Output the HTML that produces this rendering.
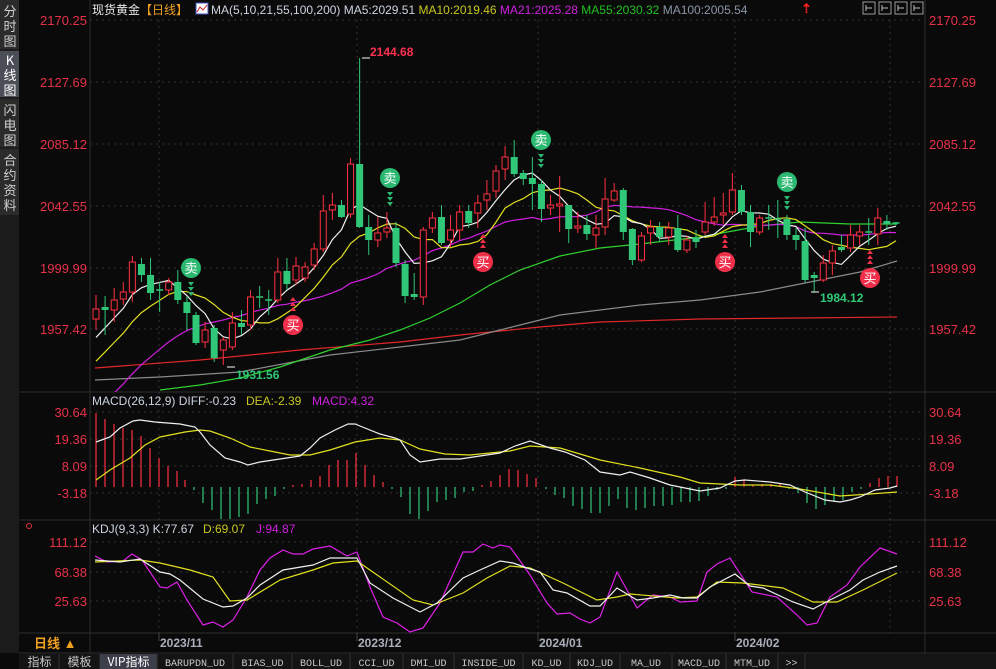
<!DOCTYPE html>
<html><head><meta charset="utf-8">
<style>
html,body{margin:0;padding:0;background:#0a0a0a;}
body{width:996px;height:669px;overflow:hidden;position:relative;font-family:"Liberation Sans","Noto Sans CJK SC",sans-serif;}
svg{position:absolute;left:0;top:0;}
</style></head>
<body>
<svg id="s" width="996" height="669" viewBox="0 0 996 669" xmlns="http://www.w3.org/2000/svg">
<rect width="996" height="669" fill="#0a0a0a"/>
<!-- sidebar -->
<rect x="0" y="0" width="19" height="653" fill="#2b2b2b"/>
<rect x="0" y="51" width="19" height="46" fill="#4b4e57"/>
<line x1="0" y1="50" x2="19" y2="50" stroke="#111"/>
<line x1="0" y1="98" x2="19" y2="98" stroke="#111"/>
<line x1="0" y1="148" x2="19" y2="148" stroke="#111"/>
<g font-size="13" fill="#d0d0d0" text-anchor="middle" font-family="'Noto Sans CJK SC',sans-serif">
<text x="10" y="16">分</text><text x="10" y="31">时</text><text x="10" y="46">图</text>
<text x="10" y="65" fill="#fff">K</text><text x="10" y="80" fill="#fff">线</text><text x="10" y="95" fill="#fff">图</text>
<text x="10" y="115">闪</text><text x="10" y="130">电</text><text x="10" y="145">图</text>
<text x="10" y="165">合</text><text x="10" y="180">约</text><text x="10" y="195">资</text><text x="10" y="210">料</text>
</g>
<rect x="0" y="215" width="19" height="438" fill="#1b1b1b"/>
<g id="grid"></g>
<g id="plot"></g>
</svg>
<script>
var NS="http://www.w3.org/2000/svg";
var plot=document.getElementById('plot'),grid=document.getElementById('grid');
function el(p,t,a,txt){var e=document.createElementNS(NS,t);for(var k in a)e.setAttribute(k,a[k]);if(txt!==undefined)e.textContent=txt;p.appendChild(e);return e;}
function pl(p,pts,c,w,clip){var s=pts.map(function(q){return q[0]+','+q[1]}).join(' ');var a={points:s,fill:'none',stroke:c,'stroke-width':w||1};if(clip)a['clip-path']=clip;return el(p,'polyline',a);}
var defs=el(document.getElementById('s'),'defs',{});
var cp=el(defs,'clipPath',{id:'cm'});el(cp,'rect',{x:91,y:20,width:834,height:372});
var cp2=el(defs,'clipPath',{id:'ck'});el(cp2,'rect',{x:91,y:521,width:834,height:112});
var L=90,R=925;
[[L,0,L,653],[R,0,R,653]].forEach(function(a){el(grid,'line',{x1:a[0],y1:a[1],x2:a[2],y2:a[3],stroke:'#2c2c2c'})});
[392,520,633,653].forEach(function(y){el(grid,'line',{x1:19,y1:y,x2:996,y2:y,stroke:'#2e2e2e'})});
function hl(y,lab){el(grid,'line',{x1:L,y1:y,x2:R,y2:y,stroke:'#333','stroke-dasharray':'2,4'});
 el(grid,'text',{x:87,y:y+5,'text-anchor':'end','font-size':13,fill:'#e8324a'},lab);
 el(grid,'text',{x:929,y:y+5,'font-size':13,fill:'#e8324a'},lab);}
hl(20,'2170.25');hl(82,'2127.69');hl(144,'2085.12');hl(206,'2042.55');hl(268,'1999.99');hl(329,'1957.42');
hl(412,'30.64');hl(439,'19.36');hl(466,'8.09');hl(493,'-3.18');
hl(542,'111.12');hl(572,'68.38');hl(601,'25.63');
[159,357,538,735].forEach(function(x){el(grid,'line',{x1:x,y1:20,x2:x,y2:633,stroke:'#333','stroke-dasharray':'2,4'});
 el(grid,'line',{x1:x,y1:633,x2:x,y2:641,stroke:'#444'});});
el(grid,'line',{x1:890,y1:20,x2:890,y2:633,stroke:'#333','stroke-dasharray':'2,4'});
[['2023/11',160],['2023/12',358],['2024/01',539],['2024/02',736]].forEach(function(d){el(grid,'text',{x:d[1],y:647,'font-size':12,'font-weight':'bold',fill:'#a9b0bb'},d[0])});
el(grid,'text',{x:34,y:648,'font-size':13,'font-weight':'bold',fill:'#f0a020'},'日线 ▲');
var h=el(grid,'text',{x:92,y:14,'font-size':12,fill:'#ddd'});
function ts(t,c){var e=document.createElementNS(NS,'tspan');e.setAttribute('fill',c);e.textContent=t;h.appendChild(e);}
ts('现货黄金','#e8e8e8');ts('【日线】','#f0a020');
el(grid,'rect',{x:196,y:3,width:12,height:11,fill:'#fff',stroke:'#4050c0'});
pl(grid,[[197,12],[200,7],[203,10],[207,5]],'#d02020',1);
var h2=el(grid,'text',{x:211,y:14,'font-size':12});h=h2;
ts('MA(5,10,21,55,100,200)  MA5:2029.51  ','#ccd4e0');ts('MA10:2019.46  ','#c8c820');ts('MA21:2025.28  ','#d020e0');ts('MA55:2030.32  ','#20c020');ts('MA100:2005.54','#8a96a8');
el(grid,'text',{x:801,y:13,'font-size':13,fill:'#ff2020','font-weight':'bold'},'⇡');
[863,879,895,911].forEach(function(x){el(grid,'rect',{x:x,y:2,width:12,height:12,fill:'none',stroke:'#999'});el(grid,'line',{x1:x+3,y1:5,x2:x+3,y2:11,stroke:'#bbb'});el(grid,'line',{x1:x+3,y1:8,x2:x+9,y2:8,stroke:'#bbb'});});
el(grid,'text',{x:92,y:405,'font-size':12,fill:'#ccd4e0'},'MACD(26,12,9) DIFF:-0.23');
el(grid,'text',{x:246,y:405,'font-size':12,fill:'#c8c820'},'DEA:-2.39');
el(grid,'text',{x:312,y:405,'font-size':12,fill:'#d020e0'},'MACD:4.32');
el(grid,'text',{x:92,y:533,'font-size':12,fill:'#ccd4e0'},'KDJ(9,3,3) K:77.67');
el(grid,'text',{x:203,y:533,'font-size':12,fill:'#c8c820'},'D:69.07');
el(grid,'text',{x:256,y:533,'font-size':12,fill:'#d020e0'},'J:94.87');
el(grid,'circle',{cx:29,cy:526,r:2.5,fill:'none',stroke:'#e03040'});
el(grid,'rect',{x:19,y:654,width:977,height:15,fill:'#141414'});
var tabs=[['指标',20,59],['模板',59,100],['VIP指标',100,157],['BARUPDN_UD',157,233],['BIAS_UD',233,292],['BOLL_UD',292,350],['CCI_UD',350,403],['DMI_UD',403,454],['INSIDE_UD',454,523],['KD_UD',523,570],['KDJ_UD',570,620],['MA_UD',620,672],['MACD_UD',672,726],['MTM_UD',726,778],['>>',778,805]];
tabs.forEach(function(t,i){if(i==2)el(grid,'rect',{x:t[1],y:654,width:t[2]-t[1],height:15,fill:'#3c3f4a'});
 el(grid,'line',{x1:t[2],y1:654,x2:t[2],y2:669,stroke:'#333'});
 el(grid,'text',{x:(t[1]+t[2])/2,y:666,'text-anchor':'middle','font-size':i<3?12:10,fill:i==2?'#fff':'#c8c8c8','font-family':i<3?"'Noto Sans CJK SC',sans-serif":"'Liberation Mono',monospace"},t[0]);});
var C=[[319,309,295,330],[307,310,296,335],[310,300,288,322],[299,292,282,305],[292,262,256,302],[264,275,258,282],[275,293,258,300],[290,290,282,312],[290,282,278,295],[282,300,270,304],[302,313,296,330],[315,343,312,345],[342,330,322,348],[328,358,325,362],[350,340,337,365],[347,323,312,350],[323,327,310,335],[325,297,290,330],[297,298,286,308],[300,300,290,315],[300,272,258,303],[271,284,258,290],[280,266,257,285],[278,267,262,282],[265,249,243,270],[249,211,195,252],[210,205,193,220],[205,217,200,218],[214,164,158,218],[164,227,58,228],[227,240,215,255],[240,233,217,247],[232,228,212,238],[228,263,222,267],[264,296,260,303],[294,297,273,300],[297,230,227,305],[228,218,212,233],[217,243,205,245],[240,230,215,247],[230,212,205,240],[211,223,205,228],[213,203,195,228],[200,194,180,210],[191,171,165,198],[169,157,146,180],[157,174,140,177],[173,179,170,185],[178,184,157,210],[184,209,180,222],[208,205,195,215],[206,204,176,232],[205,229,205,243],[228,226,212,233],[225,234,215,240],[235,228,215,248],[227,199,178,235],[200,191,183,202],[190,232,188,240],[229,260,228,265],[260,236,232,262],[233,227,220,245],[227,237,222,242],[237,228,222,245],[228,250,215,252],[250,240,236,253],[238,242,230,248],[232,222,202,235],[222,217,197,226],[215,213,193,224],[212,190,173,215],[190,212,185,215],[212,232,205,247],[232,218,215,235],[218,219,205,230],[219,220,200,238],[219,235,215,240],[235,240,228,250],[241,280,228,283],[275,278,272,292],[280,263,255,282],[263,251,245,275],[247,250,235,252],[248,235,225,252],[236,232,225,245],[232,233,218,245],[234,218,208,245],[221,224,215,230],[223,224,222,225]];
var n=C.length,st=(896-96)/(n-1);
function X(i){return 96+i*st;}
pl(plot,[[95,368],[200,360],[300,350],[400,342],[460,335],[540,327],[600,322],[700,319],[800,318],[897,317]],'#e02828',1.2,'url(#cm)');
pl(plot,[[95,380],[160,377],[240,372],[330,355],[400,347],[460,340],[520,325],[560,315],[640,305],[700,300],[760,292],[820,280],[860,272],[897,261]],'#8a8a8a',1.2,'url(#cm)');
pl(plot,[[160,390],[200,385],[240,378],[280,367],[330,350],[370,340],[400,330],[430,318],[460,303],[490,285],[520,270],[560,256],[600,248],[640,244],[700,237],[760,226],[800,222],[850,224],[897,224]],'#30d030',1.2,'url(#cm)');
var closes=[];for(var k=0;k<22;k++)closes.push(520-k*9);
C.forEach(function(c){closes.push(c[1]);});
function ma(p){var r=[];for(var i=0;i<n;i++){var j=i+22,s=0;for(var m=0;m<p;m++)s+=closes[j-m];r.push([X(i),(s/p).toFixed(1)]);}return r;}
pl(plot,ma(21),'#d020e0',1.2,'url(#cm)');
pl(plot,ma(10),'#e0e020',1.2,'url(#cm)');
pl(plot,ma(5),'#f0f0f0',1.2,'url(#cm)');
C.forEach(function(c,i){var x=X(i),up=c[1]<c[0],col=up?'#ff3040':'#30c878';
 var top=Math.min(c[0],c[1]),bot=Math.max(c[0],c[1]);
 el(plot,'line',{x1:x,y1:c[2],x2:x,y2:top,stroke:col});el(plot,'line',{x1:x,y1:bot,x2:x,y2:c[3],stroke:col});
 if(bot-top<1.5){el(plot,'line',{x1:x-3.5,y1:top,x2:x+3.5,y2:top,stroke:col,'stroke-width':1.5});}
 else if(up)el(plot,'rect',{x:x-3,y:top,width:6,height:bot-top,fill:'#0a0a0a',stroke:col});
 else el(plot,'rect',{x:x-3.5,y:top,width:7,height:bot-top,fill:col});});
[[191,268],[390,178],[541,140],[787,182]].forEach(function(s){el(plot,'circle',{cx:s[0],cy:s[1],r:10,fill:'#2bb870'});
 el(plot,'text',{x:s[0],y:s[1]+5,'text-anchor':'middle','font-size':13,fill:'#fff','font-family':"'Noto Sans CJK SC',sans-serif"},'卖');
 for(var k=0;k<3;k++)el(plot,'polygon',{points:(s[0]-3)+','+(s[1]+14+k*5)+' '+(s[0]+3)+','+(s[1]+14+k*5)+' '+s[0]+','+(s[1]+18+k*5),fill:'#2bb870'});});
[[293,325],[483,262],[725,262],[870,278]].forEach(function(s){el(plot,'circle',{cx:s[0],cy:s[1],r:10,fill:'#f0304a'});
 el(plot,'text',{x:s[0],y:s[1]+5,'text-anchor':'middle','font-size':13,fill:'#fff','font-family':"'Noto Sans CJK SC',sans-serif"},'买');
 for(var k=0;k<3;k++)el(plot,'polygon',{points:(s[0]-3)+','+(s[1]-14-k*5)+' '+(s[0]+3)+','+(s[1]-14-k*5)+' '+s[0]+','+(s[1]-18-k*5),fill:'#f0304a'});});
el(plot,'text',{x:370,y:56,'font-size':12,'font-weight':'bold',fill:'#ff3050'},'2144.68');
el(plot,'line',{x1:362,y1:58,x2:370,y2:58,stroke:'#fff'});
el(plot,'text',{x:236,y:379,'font-size':12,'font-weight':'bold',fill:'#30c878'},'1931.56');
el(plot,'line',{x1:227,y1:367,x2:235,y2:367,stroke:'#fff'});
el(plot,'text',{x:820,y:302,'font-size':12,'font-weight':'bold',fill:'#30c878'},'1984.12');
el(plot,'line',{x1:811,y1:292,x2:819,y2:292,stroke:'#fff'});
var Z=487;
var H=[[96,413],[105,419],[114,424],[123,428],[132,430],[141,436],[150,448],[159,458],[168,466],[177,471],[185,480],[194,490],[203,503],[212,510],[221,519],[230,519],[239,517],[248,514],[257,504],[266,499],[275,496],[284,489],[293,485],[302,484],[311,480],[320,476],[329,465],[338,460],[347,460],[356,453],[365,465],[374,475],[383,482],[392,489],[401,497],[410,514],[419,519],[428,511],[437,502],[446,500],[455,498],[464,492],[473,491],[482,485],[491,481],[500,475],[509,469],[518,470],[527,474],[536,478],[546,489],[555,495],[564,498],[573,506],[582,509],[591,513],[600,513],[609,506],[618,499],[627,508],[636,510],[645,508],[654,506],[663,506],[672,505],[681,502],[690,502],[699,501],[708,496],[717,490],[726,489],[735,477],[744,479],[753,485],[762,484],[771,484],[780,484],[789,489],[798,493],[807,503],[816,509],[825,505],[834,502],[843,500],[852,492],[861,489],[870,483],[879,478],[888,476],[897,476]];
H.forEach(function(b){el(plot,'line',{x1:b[0],y1:Z,x2:b[0],y2:b[1],stroke:b[1]<Z?'#ff3040':'#30c878','stroke-width':1.2});});
pl(plot,[[96,480],[110,470],[130,458],[145,445],[160,437],[185,432],[200,430],[210,431],[230,438],[250,447],[270,451],[290,455],[310,455],[330,450],[355,442],[380,438],[400,440],[420,449],[445,454],[470,455],[490,453],[510,451],[530,446],[560,448],[600,460],[640,468],[680,477],[700,483],[740,485],[770,485],[800,489],[840,496],[870,494],[897,492]],'#e0e020',1.2);
pl(plot,[[96,442],[110,437],[120,428],[133,421],[140,420],[155,422],[180,424],[195,427],[200,432],[210,445],[225,458],[240,462],[248,465],[260,462],[280,459],[300,456],[310,448],[320,438],[335,430],[348,424],[355,424],[360,426],[380,434],[395,438],[400,440],[410,455],[420,462],[440,459],[460,459],[480,456],[500,453],[515,446],[530,441],[550,448],[565,452],[585,460],[600,472],[620,475],[630,472],[650,478],[670,485],[690,489],[700,491],[720,488],[735,481],[745,480],[770,482],[790,485],[805,492],[825,500],[840,502],[850,500],[860,497],[875,490],[890,488],[897,486]],'#f0f0f0',1.2);
pl(plot,[[95,556],[107,562],[123,561],[132,554],[142,560],[160,587],[167,588],[177,582],[187,600],[203,625],[213,622],[223,627],[233,620],[247,597],[260,570],[270,558],[283,550],[293,554],[303,554],[313,549],[330,546],[347,556],[357,552],[370,587],[383,617],[397,623],[410,632],[423,628],[440,603],[463,552],[473,552],[483,544],[493,548],[500,545],[510,547],[523,565],[530,575],[547,603],[557,614],[570,613],[580,619],[590,623],[600,617],[617,572],[627,590],[637,608],[653,595],[670,597],[680,602],[697,601],[707,572],[717,564],[730,558],[752,592],[777,597],[797,615],[807,625],[817,623],[830,597],[847,585],[860,567],[880,548],[897,554]],'#e020e8',1.2,'url(#ck)');
pl(plot,[[95,562],[140,560],[160,563],[190,570],[213,577],[230,601],[247,600],[280,580],[313,570],[333,563],[357,561],[380,577],[413,600],[433,605],[463,593],[487,578],[510,566],[530,568],[563,583],[597,600],[617,597],[630,594],[677,598],[697,597],[717,582],[743,583],[783,588],[813,602],[837,602],[863,590],[897,573]],'#e0e020',1.2,'url(#ck)');
pl(plot,[[95,560],[120,562],[140,559],[160,572],[170,574],[180,580],[203,599],[223,607],[233,606],[247,598],[260,585],[283,570],[313,565],[330,558],[357,558],[370,583],[393,598],[420,612],[437,603],[463,578],[480,570],[500,561],[513,563],[527,568],[540,572],[553,590],[567,593],[590,606],[600,606],[617,588],[637,600],[653,598],[670,595],[683,598],[697,598],[710,587],[735,574],[750,586],[763,588],[793,602],[813,609],[830,600],[850,590],[863,580],[880,572],[897,566]],'#f0f0f0',1.2,'url(#ck)');
</script>
</body></html>
